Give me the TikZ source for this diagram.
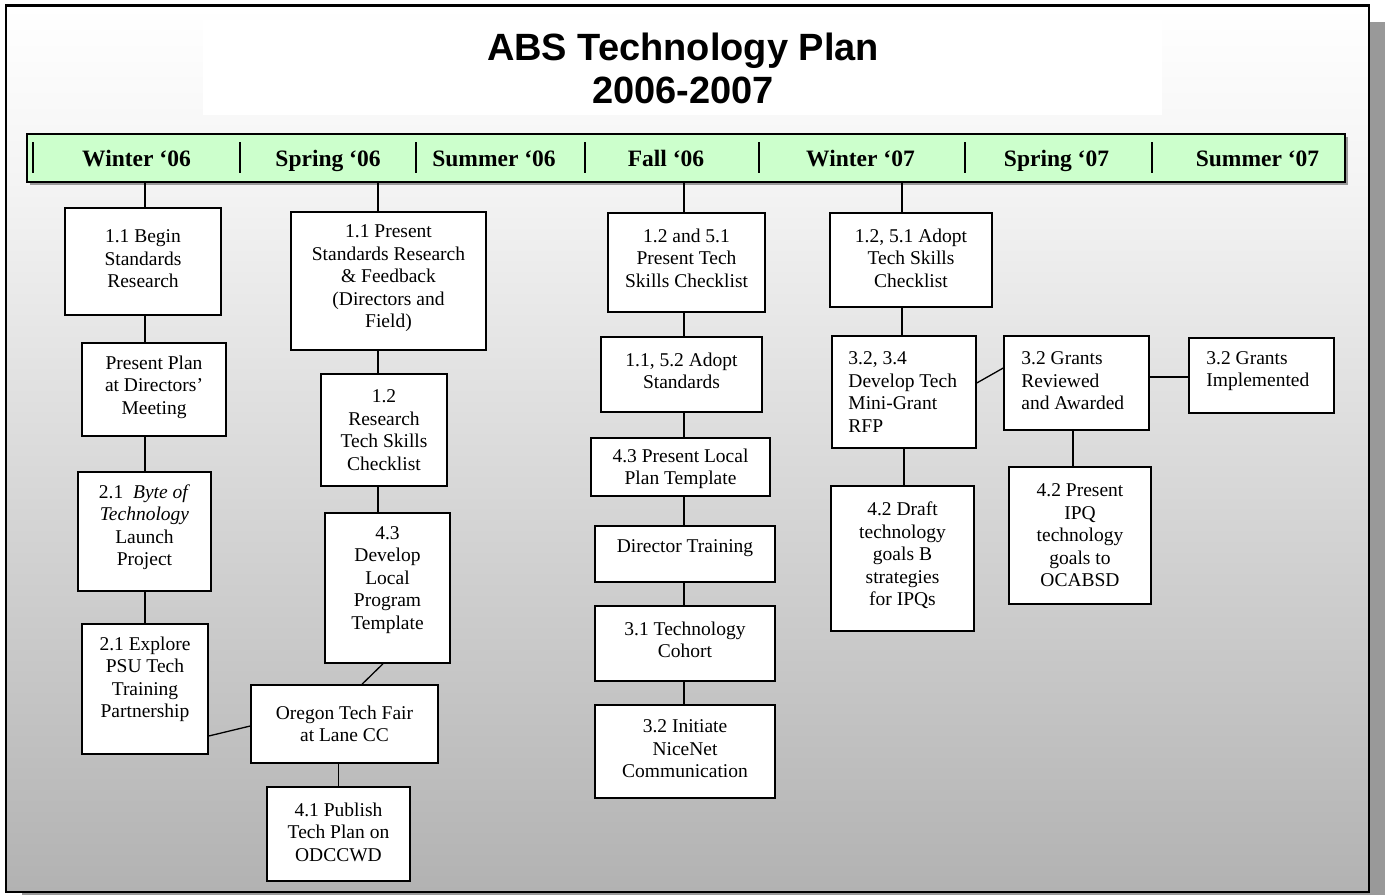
\documentclass[tikz,border=0pt]{standalone}
\usepackage{fontspec}
\setmainfont{Liberation Serif}
\newfontfamily\titlefont{Liberation Sans}
\usetikzlibrary{fit}
\definecolor{bandgreen}{HTML}{CCFFCC}
\definecolor{shadowgray}{HTML}{999999}
\definecolor{bgtop}{HTML}{F4F4F4}
\definecolor{bgbot}{HTML}{B2B2B2}
\tikzset{
  box/.style={draw=black, fill=white, line width=1.5pt, inner sep=0pt},
  txt/.style={align=center, inner sep=0pt, font=\fontsize{19.5}{22.5}\selectfont},
  ltxt/.style={align=left, inner sep=0pt, anchor=west, font=\fontsize{19.5}{22.5}\selectfont},
  link/.style={draw=black, line width=1.3pt},
  season/.style={anchor=base, font=\bfseries\fontsize{23.5}{26}\selectfont},
  sepline/.style={line width=1.6pt},
  titletext/.style={anchor=base, font=\titlefont\bfseries\fontsize{38}{43}\selectfont},
}
\newcommand\bx[7]{%
  \node[box, fit={(#2,#3) (#4,#5)}] (#1) {};
  \node[txt] (#1t) at ([yshift=#6pt]#1.center) {#7};}
\newcommand\bxl[8]{%
  \node[box, fit={(#2,#3) (#4,#5)}] (#1) {};
  \node[ltxt] (#1t) at ([xshift=#7pt,yshift=#6pt]#1.west) {#8};}
\begin{document}
\begin{tikzpicture}[x=1pt,y=-1pt]
\useasboundingbox (0,0) rectangle (1385,895);
% frame, shadow, background
\fill[shadowgray] (22,22) rectangle (1385,895);
\shade[top color=white, bottom color=bgtop] (6,5.5) rectangle (1369,180);
\shade[top color=bgtop, bottom color=bgbot] (6,180) rectangle (1369,892);
\fill[white] (203,20) rectangle (1162,115);
\draw[line width=2.5pt] (6,5.5) rectangle (1369,892);
% title
\node[titletext] (title1) at (683,60) {ABS Technology Plan};
\node[titletext] (title2) at (683,103) {2006-2007};
% band
\fill[shadowgray] (30,137) rectangle (1348,185);
\node[draw=black, fill=bandgreen, line width=1.3pt, inner sep=0pt, fit={(27,134) (1345,182)}] (band) {};
\foreach \sx in {33,240,416,585,759,965,1152}
  \draw[sepline] (\sx,142) -- (\sx,173);
\node[season] (s1) at (136.5,166) {Winter ‘06};
\node[season] (s2) at (328,166) {Spring ‘06};
\node[season] (s3) at (494,166) {Summer ‘06};
\node[season] (s4) at (666,166) {Fall ‘06};
\node[season] (s5) at (860.5,166) {Winter ‘07};
\node[season] (s6) at (1056.5,166) {Spring ‘07};
\node[season] (s7) at (1257.5,166) {Summer ‘07};
% column coordinates
\coordinate (colA) at (145,0);
\coordinate (colB) at (378,0);
\coordinate (colC) at (684,0);
\coordinate (colD) at (902,0);
% boxes column 1
\bx{b1}{65}{208}{221}{315}{2.5}{1.1 Begin\\Standards\\Research}
\bx{b2}{82}{343}{226}{436}{2.5}{Present Plan\\at Directors'\\Meeting}
\bx{b3}{78}{472}{211}{591}{4.5}{2.1 \ \textit{Byte of}\\\textit{Technology}\\Launch\\Project}
\bx{b4}{82}{624}{208}{754}{9.5}{2.1 Explore\\PSU Tech\\Training\\Partnership}
% column 2
\bx{c1}{291}{212}{486}{350}{2.5}{1.1 Present\\Standards Research\\\& Feedback\\(Directors and\\Field)}
\bx{c2}{321}{374}{447}{486}{0}{1.2\\Research\\Tech Skills\\Checklist}
\bx{c3}{325}{513}{450}{663}{8}{4.3\\Develop\\Local\\Program\\Template}
\bx{c4}{251}{685}{438}{763}{0}{Oregon Tech Fair\\at Lane CC}
\bx{c5}{267}{787}{410}{881}{2}{4.1 Publish\\Tech Plan on\\ODCCWD}
% column 3
\bx{d1}{608}{213}{765}{312}{4.5}{1.2 and 5.1\\Present Tech\\Skills Checklist}
\bx{d2}{601}{337}{762}{412}{3.5}{1.1, 5.2 Adopt\\Standards}
\bx{d3}{591}{438}{770}{496}{-2}{4.3 Present Local\\Plan Template}
\bx{d4}{595}{526}{775}{582}{6}{Director Training}
\bx{d5}{595}{606}{775}{681}{3.5}{3.1 Technology\\Cohort}
\bx{d6}{595}{705}{775}{798}{2.5}{3.2 Initiate\\NiceNet\\Communication}
% column 4
\bx{e1}{830}{213}{992}{307}{2}{1.2, 5.1 Adopt\\Tech Skills\\Checklist}
\bxl{e2}{832}{336}{976}{448}{0}{17}{3.2, 3.4\\Develop Tech\\Mini-Grant\\RFP}
\bxl{e3}{1004}{336}{1149}{430}{2}{18}{3.2 Grants\\Reviewed\\and Awarded}
\bxl{e4}{1189}{338}{1334}{413}{4.5}{18}{3.2 Grants\\Implemented}
\bx{e5}{831}{486}{974}{631}{3}{4.2 Draft\\technology\\goals B\\strategies\\for IPQs}
\bx{e6}{1009}{467}{1151}{604}{0}{4.2 Present\\IPQ\\technology\\goals to\\OCABSD}
% connectors column 1
\draw[link] (band.south -| colA) -- (b1.north -| colA);
\draw[link] (b1.south -| colA) -- (b2.north -| colA);
\draw[link] (b2.south -| colA) -- (b3.north -| colA);
\draw[link] (b3.south -| colA) -- (b4.north -| colA);
% column 2
\draw[link] (band.south -| colB) -- (c1.north -| colB);
\draw[link] (c1.south -| colB) -- (c2.north -| colB);
\draw[link] (c2.south -| colB) -- (c3.north -| colB);
\draw[link] ([xshift=-4.5pt]c3.south) -- ([xshift=17.5pt]c4.north);
\draw[link] ([yshift=-47pt]b4.east) -- ([yshift=-2pt]c4.west);
\draw[link] (c4.south -| c5.north) -- (c5.north);
% column 3
\draw[link] (band.south -| colC) -- (d1.north -| colC);
\draw[link] (d1.south -| colC) -- (d2.north -| colC);
\draw[link] (d2.south -| colC) -- (d3.north -| colC);
\draw[link] (d3.south -| colC) -- (d4.north -| colC);
\draw[link] (d4.south -| colC) -- (d5.north -| colC);
\draw[link] (d5.south -| colC) -- (d6.north -| colC);
% column 4
\draw[link] (band.south -| colD) -- (e1.north -| colD);
\draw[link] (e1.south -| colD) -- (e2.north -| colD);
\draw[link] (e2.south) -- (e2.south |- e5.north);
\draw[link] ([yshift=9pt]e2.east) -- ([yshift=15pt]e3.west);
\draw[link] ([yshift=6pt]e3.east) -- ([yshift=6pt]e3.east -| e4.west);
\draw[link] ([xshift=-3.5pt]e3.south) -- ([xshift=-3.5pt]e3.south |- e6.north);
\end{tikzpicture}
\end{document}
